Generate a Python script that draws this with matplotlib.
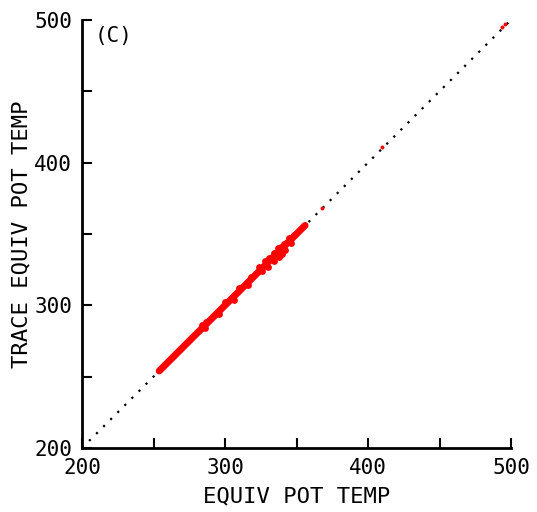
import matplotlib
matplotlib.use("Agg")
import matplotlib.pyplot as plt

# equivalent potential temperature vs value from trace (K)
band_x = [254, 257, 260, 263, 266, 269, 272, 275, 278, 281, 284, 287, 290, 293,
          296, 299, 302, 305, 308, 311, 314, 317, 320, 323, 326, 329, 332, 335,
          338, 341, 344, 347, 350, 353, 356]
band_y = [254, 257, 260, 263, 266, 269, 272, 275, 278, 281, 284, 287, 290, 293,
          296, 299, 302, 305, 308, 311, 314, 317, 320, 323, 326, 329, 332, 335,
          338, 341, 344, 347, 350, 353, 356]
# spread around the band (points just off the diagonal)
wide_x = [284, 287, 300, 310, 318, 324, 328, 331, 334, 337, 339, 341, 343, 345, 348]
wide_y = [286, 288, 302, 312, 320, 327, 331, 333, 337, 340, 341, 343, 344, 347, 349]
wide_x2 = [286, 296, 306, 316, 326, 330, 334, 338, 340, 342, 346]
wide_y2 = [284, 294, 304, 314, 324, 327, 331, 334, 336, 339, 344]
out_x = [368, 410, 494, 496]
out_y = [368, 411, 495, 497]

ax_min, ax_max = 200, 500
major = [200, 300, 400, 500]
minor = [250, 350, 450]

plt.rcParams['font.family'] = ['DejaVu Sans Mono']

fig = plt.figure(figsize=(5.37, 5.12), dpi=100)
ax = fig.add_axes([82 / 537, (512 - 448) / 512, (511 - 82) / 537, (448 - 20) / 512])

ax.plot([ax_min, ax_max], [ax_min, ax_max], color='black', lw=1.6,
        dashes=(1, 3.5), zorder=1)
ax.plot(band_x, band_y, color='red', lw=5, solid_capstyle='round', zorder=2)
ax.scatter(wide_x, wide_y, s=24, color='red', linewidths=0, zorder=2)
ax.scatter(wide_x2, wide_y2, s=24, color='red', linewidths=0, zorder=2)
ax.scatter(out_x, out_y, s=8, color='red', linewidths=0, zorder=2)

ax.set_xlim(ax_min, ax_max)
ax.set_ylim(ax_min, ax_max)
ax.set_xticks(major)
ax.set_yticks(major)
ax.set_xticks(minor, minor=True)
ax.set_yticks(minor, minor=True)
ax.tick_params(which='both', direction='in', length=7, width=1.5, labelsize=15)
ax.tick_params(axis='x', pad=7)
ax.tick_params(axis='y', pad=7)
ax.spines['top'].set_visible(False)
ax.spines['right'].set_visible(False)
ax.spines['left'].set_linewidth(2)
ax.spines['bottom'].set_linewidth(2)

ax.set_xlabel('EQUIV POT TEMP', fontsize=16, labelpad=6)
ax.set_ylabel('TRACE EQUIV POT TEMP', fontsize=16, labelpad=2)
ax.text(0.03, 0.985, '(C)', transform=ax.transAxes, fontsize=15, va='top', ha='left')

fig.savefig('out.png', dpi=100)
